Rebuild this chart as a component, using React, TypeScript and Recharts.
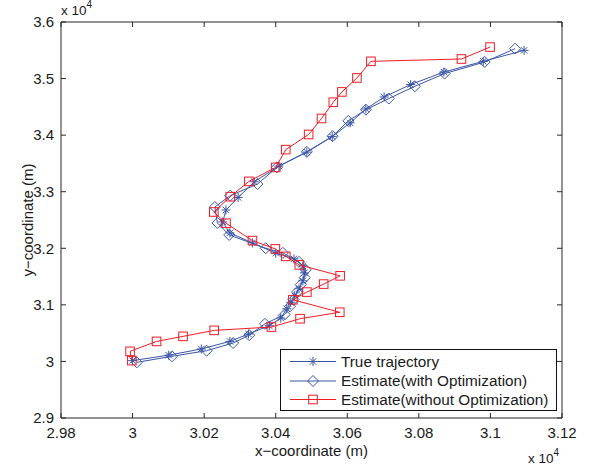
import React from "react";
import { ScatterChart, Scatter, XAxis, YAxis, ReferenceLine, Legend } from "recharts";

// ---- data (metres) ----
const TRUE_X = [30000, 30101, 30192, 30272, 30324, 30382, 30414, 30431, 30442, 30453, 30465, 30476, 30480, 30476, 30451, 30400, 30335, 30272, 30252, 30261, 30295, 30340, 30409, 30487, 30558, 30608, 30652, 30703, 30777, 30870, 30980, 31094];
const TRUE_Y = [30014, 30111, 30220, 30354, 30485, 30631, 30767, 30931, 31046, 31161, 31284, 31425, 31566, 31690, 31813, 31914, 32095, 32272, 32466, 32677, 32898, 33176, 33453, 33700, 33974, 34217, 34462, 34675, 34894, 35116, 35305, 35499];

const OPT_X = [30012, 30110, 30207, 30281, 30326, 30370, 30425, 30440, 30450, 30461, 30470, 30481, 30484, 30465, 30420, 30372, 30270, 30237, 30230, 30273, 30349, 30403, 30487, 30559, 30603, 30652, 30716, 30789, 30872, 30984, 31069];
const OPT_Y = [29984, 30090, 30190, 30326, 30464, 30665, 30829, 30975, 31093, 31234, 31358, 31481, 31619, 31760, 31919, 32001, 32236, 32448, 32730, 32932, 33135, 33430, 33705, 33982, 34252, 34450, 34647, 34864, 35088, 35293, 35529];

const RAW_X = [29998, 29993, 30067, 30141, 30228, 30388, 30468, 30579, 30448, 30487, 30534, 30580, 30466, 30428, 30399, 30335, 30261, 30227, 30273, 30325, 30400, 30428, 30492, 30528, 30561, 30585, 30627, 30666, 30919, 30999];
const RAW_Y = [30014, 30178, 30354, 30443, 30549, 30608, 30755, 30869, 31090, 31226, 31367, 31513, 31707, 31857, 31989, 32136, 32443, 32642, 32912, 33183, 33430, 33744, 34012, 34295, 34582, 34764, 35011, 35305, 35346, 35557];

const X_TICKS = [29800, 30000, 30200, 30400, 30600, 30800, 31000, 31200];
const X_TICK_LABELS = ["2.98", "3", "3.02", "3.04", "3.06", "3.08", "3.1", "3.12"];
const Y_TICKS = [29000, 30000, 31000, 32000, 33000, 34000, 35000, 36000];
const Y_TICK_LABELS = ["2.9", "3", "3.1", "3.2", "3.3", "3.4", "3.5", "3.6"];

const SERIES_NAMES = ["True trajectory", "Estimate(with Optimization)", "Estimate(without Optimization)"];
const X_LABEL = "x\u2212coordinate (m)";
const Y_LABEL = "y\u2212coordinate (m)";

// ---- layout / style ----
const W = 597;
const H = 469;
const MARGIN = { top: 22, right: 35, bottom: 0, left: 0 };
const Y_AXIS_W = 61;
const X_AXIS_H = 51;
const PLOT_LEFT = MARGIN.left + Y_AXIS_W;
const PLOT_RIGHT = W - MARGIN.right;
const PLOT_TOP = MARGIN.top;
const PLOT_BOTTOM = H - MARGIN.bottom - X_AXIS_H;
const TICK_LEN = 5;
const FONT = "'Liberation Sans', Arial, Helvetica, sans-serif";
const AXIS_COLOR = "#262626";
const BLUE = "#3a56a6";
const RED = "#f01c24";
const TICK_FONT = 15;
const LEGEND_FONT = 15.3;

const zip = (xs: number[], ys: number[]) => xs.map((x, i) => ({ x, y: ys[i] }));
const trueData = zip(TRUE_X, TRUE_Y);
const optData = zip(OPT_X, OPT_Y);
const rawData = zip(RAW_X, RAW_Y);

const Asterisk = ({ cx, cy, color }: any) => {
  const r = 4.5;
  const d = r * 0.7071;
  return (
    <g stroke={color} strokeWidth={1} fill="none">
      <line x1={cx - r} y1={cy} x2={cx + r} y2={cy} />
      <line x1={cx} y1={cy - r} x2={cx} y2={cy + r} />
      <line x1={cx - d} y1={cy - d} x2={cx + d} y2={cy + d} />
      <line x1={cx - d} y1={cy + d} x2={cx + d} y2={cy - d} />
    </g>
  );
};

const Diamond = ({ cx, cy, color }: any) => {
  const r = 5.5;
  return (
    <polygon
      points={`${cx},${cy - r} ${cx + r},${cy} ${cx},${cy + r} ${cx - r},${cy}`}
      fill="none"
      stroke={color}
      strokeWidth={1}
    />
  );
};

const Square = ({ cx, cy, color }: any) => {
  const r = 4.3;
  return <rect x={cx - r} y={cy - r} width={2 * r} height={2 * r} fill="none" stroke={color} strokeWidth={1} />;
};

const XTick = (props: any) => {
  const { x, payload } = props;
  const idx = X_TICKS.indexOf(payload.value);
  return (
    <g>
      <line x1={x} y1={PLOT_BOTTOM} x2={x} y2={PLOT_BOTTOM - TICK_LEN} stroke={AXIS_COLOR} />
      <line x1={x} y1={PLOT_TOP} x2={x} y2={PLOT_TOP + TICK_LEN} stroke={AXIS_COLOR} />
      <text x={x} y={PLOT_BOTTOM + 19.5} textAnchor="middle" fontSize={TICK_FONT} fontFamily={FONT} fill="#1a1a1a">
        {X_TICK_LABELS[idx]}
      </text>
    </g>
  );
};

const YTick = (props: any) => {
  const { y, payload } = props;
  const idx = Y_TICKS.indexOf(payload.value);
  return (
    <g>
      <line x1={PLOT_LEFT} y1={y} x2={PLOT_LEFT + TICK_LEN} y2={y} stroke={AXIS_COLOR} />
      <line x1={PLOT_RIGHT} y1={y} x2={PLOT_RIGHT - TICK_LEN} y2={y} stroke={AXIS_COLOR} />
      <text x={PLOT_LEFT - 7} y={y + 5.3} textAnchor="end" fontSize={TICK_FONT} fontFamily={FONT} fill="#1a1a1a">
        {Y_TICK_LABELS[idx]}
      </text>
    </g>
  );
};

const XLabel = () => (
  <g fontFamily={FONT} fill="#1a1a1a">
    <text x={(PLOT_LEFT + PLOT_RIGHT) / 2} y={PLOT_BOTTOM + 37.5} textAnchor="middle" fontSize={TICK_FONT}>
      {X_LABEL}
    </text>
    <text x={528} y={H - 6} fontSize={13.5}>
      x 10
      <tspan dy={-7} fontSize={10}>4</tspan>
    </text>
  </g>
);

const YLabel = () => {
  const cx = 27;
  const cy = (PLOT_TOP + PLOT_BOTTOM) / 2;
  return (
    <g fontFamily={FONT} fill="#1a1a1a">
      <text
        x={cx}
        y={cy}
        textAnchor="middle"
        dominantBaseline="central"
        fontSize={TICK_FONT}
        transform={`rotate(-90 ${cx} ${cy})`}
      >
        {Y_LABEL}
      </text>
      <text x={PLOT_LEFT} y={15} fontSize={13.5}>
        x 10
        <tspan dy={-7} fontSize={10}>4</tspan>
      </text>
    </g>
  );
};

const LEG_MARKERS = [Asterisk, Diamond, Square];
const LEG_COLORS = [BLUE, BLUE, RED];

const LegendBox = () => {
  const w = 276;
  const h = 61;
  const rows = [12.5, 32, 50.5];
  return (
    <svg width={w + 2} height={h + 2} style={{ display: "block" }}>
      <rect x={0.5} y={0.5} width={w} height={h} fill="#fff" stroke="#111" strokeWidth={1} />
      {SERIES_NAMES.map((name, i) => {
        const M = LEG_MARKERS[i];
        const y = rows[i];
        return (
          <g key={name}>
            <line x1={10} y1={y} x2={56} y2={y} stroke={LEG_COLORS[i]} strokeWidth={1} />
            <M cx={33} cy={y} color={LEG_COLORS[i]} />
            <text x={61} y={y + 5.4} fontSize={LEGEND_FONT} fontFamily={FONT} fill="#1a1a1a">
              {name}
            </text>
          </g>
        );
      })}
    </svg>
  );
};

export default function App() {
  return (
    <div style={{ position: "absolute", left: 0, top: 0, width: W, height: H, background: "#fff" }}>
      <ScatterChart width={W} height={H} margin={MARGIN}>
        <XAxis
          type="number"
          dataKey="x"
          domain={[X_TICKS[0], X_TICKS[X_TICKS.length - 1]]}
          ticks={X_TICKS}
          allowDataOverflow
          height={X_AXIS_H}
          tickSize={0}
          tickMargin={0}
          tickLine={false}
          axisLine={{ stroke: AXIS_COLOR }}
          tick={<XTick />}
          interval={0}
          label={<XLabel />}
        />
        <YAxis
          type="number"
          dataKey="y"
          domain={[Y_TICKS[0], Y_TICKS[Y_TICKS.length - 1]]}
          ticks={Y_TICKS}
          allowDataOverflow
          width={Y_AXIS_W}
          tickSize={0}
          tickMargin={0}
          tickLine={false}
          axisLine={{ stroke: AXIS_COLOR }}
          tick={<YTick />}
          interval={0}
          label={<YLabel />}
        />
        <ReferenceLine y={Y_TICKS[Y_TICKS.length - 1]} stroke={AXIS_COLOR} ifOverflow="visible" />
        <ReferenceLine x={X_TICKS[X_TICKS.length - 1]} stroke={AXIS_COLOR} ifOverflow="visible" />
        <Scatter
          name={SERIES_NAMES[0]}
          data={trueData}
          line={{ stroke: BLUE, strokeWidth: 1 }}
          shape={(p: any) => <Asterisk cx={p.cx} cy={p.cy} color={BLUE} />}
          isAnimationActive={false}
        />
        <Scatter
          name={SERIES_NAMES[1]}
          data={optData}
          line={{ stroke: BLUE, strokeWidth: 1 }}
          shape={(p: any) => <Diamond cx={p.cx} cy={p.cy} color={BLUE} />}
          isAnimationActive={false}
        />
        <Scatter
          name={SERIES_NAMES[2]}
          data={rawData}
          line={{ stroke: RED, strokeWidth: 1 }}
          shape={(p: any) => <Square cx={p.cx} cy={p.cy} color={RED} />}
          isAnimationActive={false}
        />
        <Legend
          layout="horizontal"
          verticalAlign="middle"
          align="center"
          content={<LegendBox />}
          wrapperStyle={{ position: "absolute", left: 280, top: 349, width: 278, height: 63 }}
        />
      </ScatterChart>
    </div>
  );
}
